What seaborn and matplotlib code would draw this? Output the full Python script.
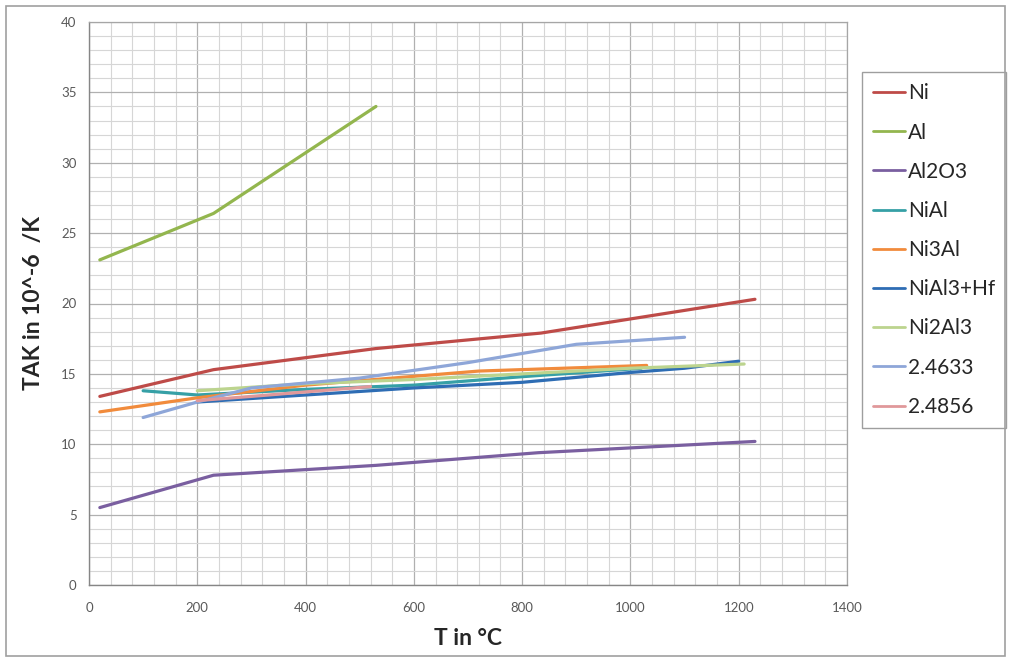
import numpy as np
import pandas as pd
import matplotlib
matplotlib.use("Agg")
import matplotlib.pyplot as plt
from matplotlib.patches import Rectangle
from matplotlib.ticker import MultipleLocator
import seaborn as sns

# values (T in degC, TAK in 10^-6 /K)
ni_t = [20, 230, 530, 835, 1230]
ni_v = [13.4, 15.3, 16.8, 17.9, 20.3]

al_t = [20, 230, 530]
al_v = [23.1, 26.4, 34.0]

al2o3_t = [20, 230, 530, 830, 1230]
al2o3_v = [5.5, 7.8, 8.5, 9.4, 10.2]

nial_t = [100, 200, 400, 600, 800, 1020]
nial_v = [13.8, 13.5, 13.9, 14.2, 14.8, 15.4]

ni3al_t = [20, 200, 400, 720, 1030]
ni3al_v = [12.3, 13.3, 14.2, 15.2, 15.6]

nial3hf_t = [200, 400, 600, 800, 1000, 1100, 1200]
nial3hf_v = [13.0, 13.5, 14.0, 14.4, 15.1, 15.4, 15.9]

ni2al3_t = [200, 400, 600, 800, 1000, 1210]
ni2al3_v = [13.8, 14.3, 14.6, 15.0, 15.4, 15.7]

s24633_t = [100, 200, 300, 500, 700, 900, 1100]
s24633_v = [11.9, 13.0, 14.0, 14.7, 15.8, 17.1, 17.6]

s24856_t = [200, 300, 520]
s24856_v = [13.1, 13.4, 14.1]

names = ["Ni", "Al", "Al2O3", "NiAl", "Ni3Al", "NiAl3+Hf", "Ni2Al3", "2.4633", "2.4856"]
temps = [ni_t, al_t, al2o3_t, nial_t, ni3al_t, nial3hf_t, ni2al3_t, s24633_t, s24856_t]
vals = [ni_v, al_v, al2o3_v, nial_v, ni3al_v, nial3hf_v, ni2al3_v, s24633_v, s24856_v]
colors = ["#BE4B48", "#93B64E", "#7A5FA0", "#36A0A6", "#F18B3C",
          "#2E6DB4", "#BCD48E", "#8EA6D8", "#E0989A"]

rows = []
for name, t, v in zip(names, temps, vals):
    for tt, vv in zip(t, v):
        rows.append({"series": name, "T": tt, "TAK": vv})
df = pd.DataFrame(rows)

sns.set_style("white")
plt.rcParams["font.family"] = ["Lato", "DejaVu Sans"]

fig = plt.figure(figsize=(10.13, 6.62), dpi=100)
ax = fig.add_axes([89 / 1013, 1 - 585 / 662, (847 - 89) / 1013, (585 - 22) / 662])

sns.lineplot(data=df, x="T", y="TAK", hue="series", hue_order=names,
             palette=dict(zip(names, colors)), sort=False, estimator=None,
             linewidth=2.3, ax=ax, legend=True)

ax.set_xlim(0, 1400)
ax.set_ylim(0, 40)
ax.xaxis.set_major_locator(MultipleLocator(200))
ax.xaxis.set_minor_locator(MultipleLocator(40))
ax.yaxis.set_major_locator(MultipleLocator(5))
ax.yaxis.set_minor_locator(MultipleLocator(1))
ax.grid(which="major", color="#B0B0B0", linewidth=0.9)
ax.grid(which="minor", color="#D6D6D6", linewidth=0.8)
ax.set_axisbelow(True)

for side in ["top", "right"]:
    ax.spines[side].set_color("#A6A6A6")
    ax.spines[side].set_linewidth(0.9)
for side in ["left", "bottom"]:
    ax.spines[side].set_color("#868686")
    ax.spines[side].set_linewidth(1.0)

ax.tick_params(axis="both", which="major", direction="out", length=5,
               color="#868686", labelsize=9.5, labelcolor="#595959", pad=4)
ax.tick_params(axis="x", which="major", direction="inout", length=8, pad=8)
ax.tick_params(axis="x", which="minor", direction="inout", length=6, color="#868686")
ax.tick_params(axis="y", which="minor", length=0)

ax.set_xlabel("T in °C", fontsize=16.5, fontweight="bold", labelpad=10)
ax.set_ylabel("TAK in 10^-6  /K", fontsize=16.5, fontweight="bold", labelpad=12)

handles, labels = ax.get_legend_handles_labels()
ax.legend(handles, labels, loc="upper left", bbox_to_anchor=(862 / 1013, 1 - 72 / 662),
          bbox_transform=fig.transFigure, fontsize=15, frameon=True, fancybox=False,
          edgecolor="#868686", handlelength=1.5, handletextpad=0.15,
          labelspacing=0.92, borderpad=0.55, borderaxespad=0)
ax.get_legend().get_frame().set_linewidth(1.0)
for ln in ax.get_legend().get_lines():
    ln.set_linewidth(2.0)

# outer chart border
fig.patches.append(Rectangle((6 / 1013, 6 / 662), 999 / 1013, 650 / 662,
                             transform=fig.transFigure, fill=False,
                             edgecolor="#A0A0A0", linewidth=1.2))

fig.savefig("out.png", dpi=100)
